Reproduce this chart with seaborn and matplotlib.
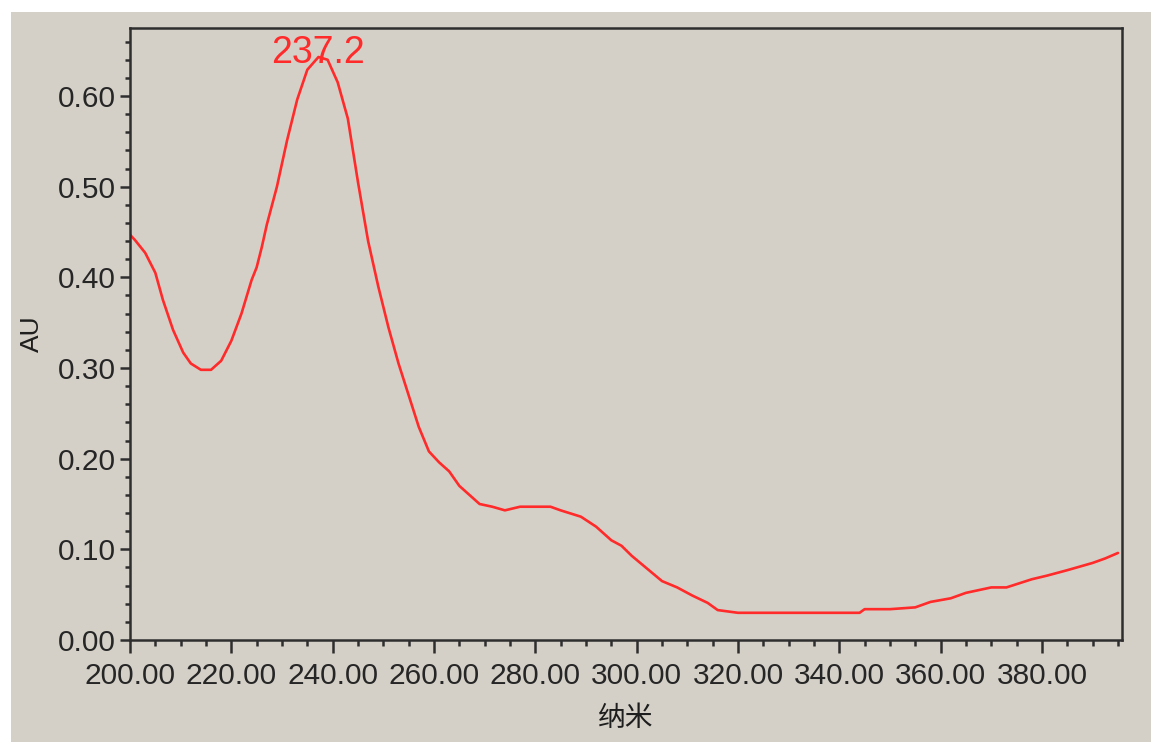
import numpy as np
import pandas as pd
import matplotlib
matplotlib.use("Agg")
import matplotlib.pyplot as plt
from matplotlib.patches import Rectangle
from matplotlib.ticker import MultipleLocator, FormatStrFormatter
import seaborn as sns

# Data
wavelength = [200, 201, 203, 205, 206.5, 208.5, 210.5, 212, 214, 216, 218, 220, 222, 224,
              225, 226, 227, 229, 231, 233, 235, 237.2, 239, 241, 243, 245, 247, 249,
              251, 253, 255, 257, 259, 261, 263, 265, 267, 269, 271.5, 274, 277, 283,
              285, 289, 292, 295, 297, 299, 302, 305, 308, 311, 314, 316, 320, 330,
              344, 345, 350, 355, 358, 362, 365, 370, 373, 378, 381, 385, 390, 392.5, 395]
absorbance = [0.447, 0.441, 0.427, 0.405, 0.375, 0.342, 0.317, 0.305, 0.298, 0.298, 0.308,
              0.330, 0.360, 0.397, 0.411, 0.433, 0.458, 0.500, 0.551, 0.596, 0.629, 0.643,
              0.640, 0.615, 0.575, 0.505, 0.440, 0.390, 0.345, 0.305, 0.270, 0.235, 0.208,
              0.196, 0.186, 0.170, 0.160, 0.150, 0.147, 0.143, 0.147, 0.147, 0.143, 0.136,
              0.125, 0.110, 0.104, 0.093, 0.079, 0.065, 0.058, 0.049, 0.041, 0.033, 0.030,
              0.030, 0.030, 0.034, 0.034, 0.036, 0.042, 0.046, 0.052, 0.058, 0.058, 0.067,
              0.071, 0.077, 0.085, 0.090, 0.096]
peak_label = "237.2"
peak_x = 237.2
x_label = "纳米"
y_label = "AU"

df = pd.DataFrame({"nm": wavelength, "AU": absorbance})

sns.set_style("ticks")
plt.rcParams["font.family"] = ["Liberation Sans", "DejaVu Sans"]

W, H = 1151, 742
fig = plt.figure(figsize=(W / 100, H / 100), dpi=100, facecolor="white")
panel = "#D4D0C8"
fig.patches.append(Rectangle((11 / W, 0), 1 - 11 / W, (H - 12) / H,
                             transform=fig.transFigure, facecolor=panel,
                             edgecolor="none", zorder=-10))

ax = fig.add_axes([130 / W, 1 - 640 / H, (1122 - 130) / W, (640 - 28) / H])
ax.set_facecolor(panel)

sns.lineplot(data=df, x="nm", y="AU", ax=ax, color="#FF2A2A", linewidth=1.9,
             estimator=None, sort=False)

ax.set_xlim(200, 395.8)
ax.set_ylim(0, 0.675)

ax.xaxis.set_major_locator(MultipleLocator(20))
ax.xaxis.set_minor_locator(MultipleLocator(5))
ax.yaxis.set_major_locator(MultipleLocator(0.1))
ax.yaxis.set_minor_locator(MultipleLocator(0.02))
ax.xaxis.set_major_formatter(FormatStrFormatter("%.2f"))
ax.yaxis.set_major_formatter(FormatStrFormatter("%.2f"))
ax.set_xticks([t for t in np.arange(200, 381, 20)])
ax.set_yticks([t for t in np.arange(0, 0.61, 0.1)])

dark = "#2e2e2e"
for s in ["left", "bottom", "right", "top"]:
    ax.spines[s].set_visible(True)
    ax.spines[s].set_color(dark)
    ax.spines[s].set_linewidth(1.8)

ax.tick_params(axis="x", which="major", length=9, width=1.8, color=dark,
               labelsize=21.5, labelcolor="#262626", pad=7, direction="out")
ax.tick_params(axis="x", which="minor", length=4, width=1.8, color=dark, direction="out")
ax.tick_params(axis="y", which="major", length=7.5, width=1.8, color=dark,
               labelsize=21.5, labelcolor="#262626", pad=3, direction="out")
ax.tick_params(axis="y", which="minor", length=3.5, width=1.8, color=dark, direction="out")

ax.set_xlabel(x_label, fontsize=20, color="#1e1e1e",
              family=["Noto Sans CJK SC", "DejaVu Sans"], labelpad=9)
ax.set_ylabel(y_label, fontsize=19, color="#1e1e1e", labelpad=10)

ax.text(peak_x, 0.636, peak_label, color="#FF2A2A", fontsize=27,
        ha="center", va="baseline")

fig.savefig("out.png", dpi=100, facecolor="white")
